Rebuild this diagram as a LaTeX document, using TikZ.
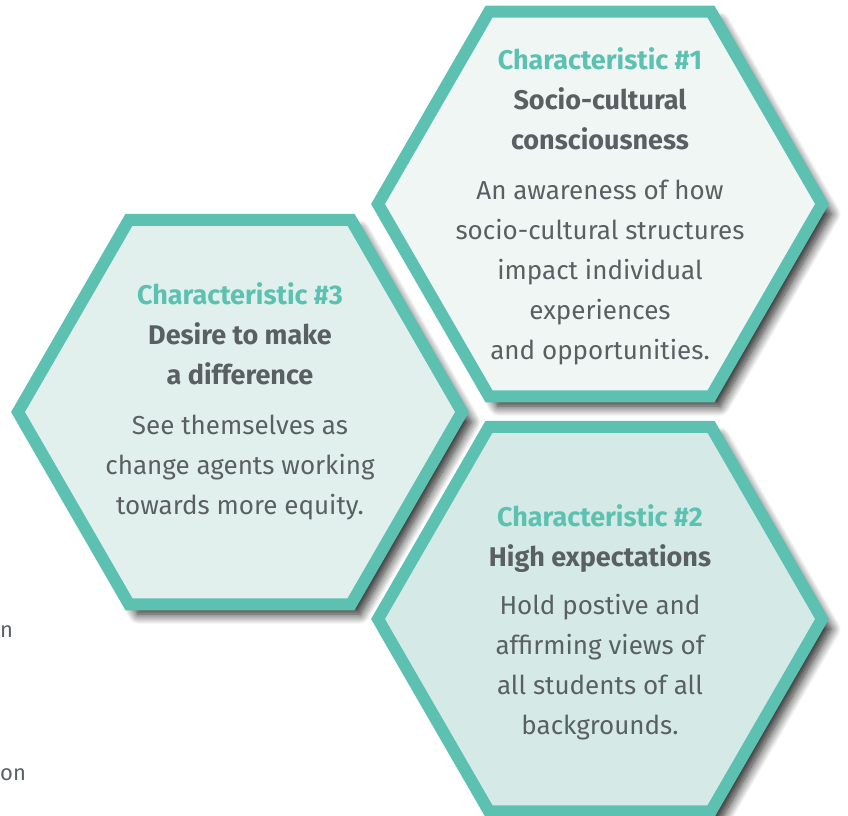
\documentclass[tikz,border=0pt]{standalone}
\usepackage{fontspec}
\setmainfont{Fira Sans}
\usepackage{xcolor}
\usepackage{tikz}
\usetikzlibrary{calc,shapes.geometric,shadows.blur}

\definecolor{hexline}{HTML}{5CC1B1}
\definecolor{hexgray}{HTML}{5A6062}
\definecolor{fillone}{HTML}{F0F6F4}
\definecolor{filltwo}{HTML}{D5EAE6}
\definecolor{fillthree}{HTML}{E2F0ED}
\newcommand{\hexhead}[1]{{\fontsize{27}{40}\selectfont\bfseries #1}}

\begin{document}
\begin{tikzpicture}[x=1pt, y=-1pt,
		hexbox/.style={regular polygon, regular polygon sides=6, minimum size=444pt, inner sep=0pt, draw=hexline, line width=12pt,
			blur shadow={shadow xshift=9pt, shadow yshift=-10pt, shadow blur radius=10pt, shadow opacity=90, shadow blur steps=14}},
		hextext/.style={align=center, text=hexgray, font=\fontsize{26}{40}\selectfont, inner sep=0pt},
		edgetext/.style={text=hexgray, font=\fontsize{22}{26}\selectfont, inner sep=0pt}]
			\useasboundingbox (0,0) rectangle (848,815);
			\node[hexbox, fill=fillone] (hex1) at (600,204) {};
			\node[hexbox, fill=fillthree] (hex3) at (240,412) {};
			\node[hexbox, fill=filltwo] (hex2) at (600,619) {};
			\node[hextext] (txt1) at ($(hex1.center)+(0,2)$)
			{
				\textcolor{hexline}{\hexhead{Characteristic \#1}}\\
				\hexhead{Socio-cultural}\\
				\hexhead{consciousness}\\[10pt]
				An awareness of how\\
				socio-cultural structures\\
				impact individual\\
				experiences\\
				and opportunities.
			};
			\node[hextext] (txt3) at ($(hex3.center)+(0,-11)$)
			{
				\textcolor{hexline}{\hexhead{Characteristic \#3}}\\
				\hexhead{Desire to make}\\
				\hexhead{a difference}\\[10pt]
				See themselves as\\
				change agents working\\
				towards more equity.
			};
			\node[hextext] (txt2) at ($(hex2.center)+(0,3)$)
			{
				\textcolor{hexline}{\hexhead{Characteristic \#2}}\\
				\hexhead{High expectations}\\[8pt]
				Hold postive and\\
				affirming views of\\
				all students of all\\
				backgrounds.
			};
			\node[edgetext, anchor=base west] (cutn) at (0,637) {n};
			\node[edgetext, anchor=base west] (cuton) at (0,780) {on};
		\end{tikzpicture}
\end{document}
